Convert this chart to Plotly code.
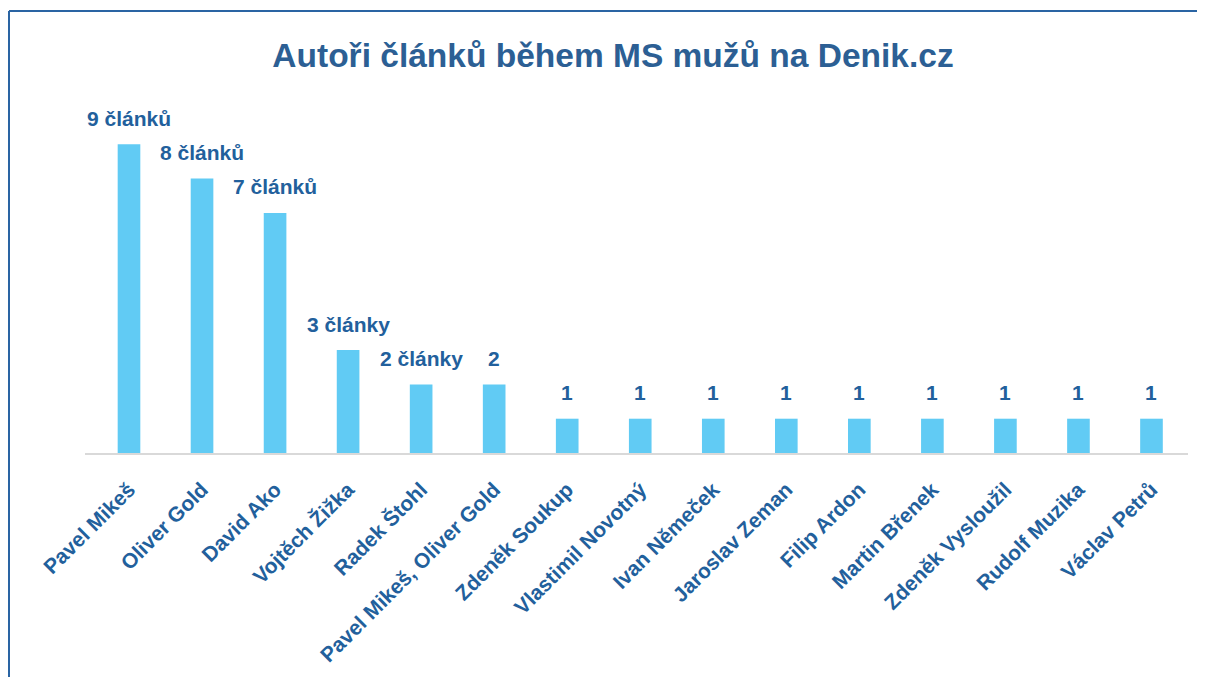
import plotly.graph_objects as go

# data
authors = [
    "Pavel Mikeš", "Oliver Gold", "David Ako", "Vojtěch Žižka", "Radek Štohl",
    "Pavel Mikeš, Oliver Gold", "Zdeněk Soukup", "Vlastimil Novotný",
    "Ivan Němeček", "Jaroslav Zeman", "Filip Ardon", "Martin Břenek",
    "Zdeněk Vysloužil", "Rudolf Muzika", "Václav Petrů",
]
articles = [9, 8, 7, 3, 2, 2, 1, 1, 1, 1, 1, 1, 1, 1, 1]
labels = [
    "9 článků", "8 článků", "7 článků", "3 články", "2 články", "2",
    "1", "1", "1", "1", "1", "1", "1", "1", "1",
]
title = "Autoři článků během MS mužů na Denik.cz"

# page has an 8px body margin, so the figure is a bit smaller than the window
W, H = 1197, 669
ML, MR, MT, MB = 77, 17, 102, 224
BLUE = "#22609C"
BAR = "#61CBF4"


def px_x(p):
    return (p - ML) / (W - ML - MR)


def px_y(p):
    return 1 - (p - MT) / (H - MT - MB)


fig = go.Figure(
    go.Bar(
        x=authors,
        y=articles,
        marker=dict(color=BAR, line=dict(width=0)),
        width=0.31,
        hoverinfo="x+y",
    )
)

for a, v, t in zip(authors, articles, labels):
    fig.add_annotation(
        x=a, y=v, text=t, showarrow=False, yanchor="middle", yshift=26,
        font=dict(family="Liberation Sans", size=21, color=BLUE, weight="bold"),
    )

# frame of the chart area (top and left edges)
fig.add_shape(type="line", xref="paper", yref="paper",
              x0=px_x(1), x1=px_x(W + 5), y0=px_y(3), y1=px_y(3),
              line=dict(color="#2A64A3", width=2))
fig.add_shape(type="line", xref="paper", yref="paper",
              x0=px_x(1), x1=px_x(1), y0=px_y(3), y1=px_y(H + 5),
              line=dict(color="#2A64A3", width=2))

fig.update_layout(
    width=W, height=H,
    margin=dict(l=ML, r=MR, t=MT, b=MB, autoexpand=False),
    paper_bgcolor="white", plot_bgcolor="white",
    showlegend=False,
    title=dict(
        text=title, x=605 / W, xanchor="center", xref="container",
        y=1 - 47 / H, yanchor="middle", yref="container",
        font=dict(family="Liberation Sans", size=33.5, color="#2C5F94", weight="bold"),
    ),
    xaxis=dict(
        tickangle=-45, showline=True, linecolor="#D9D9D9", linewidth=2,
        showgrid=False, ticks="", ticklabelstandoff=14, automargin=False,
        tickfont=dict(family="Liberation Sans", size=21, color=BLUE, weight="bold"),
    ),
    yaxis=dict(range=[0, 10], visible=False, showgrid=False),
)

fig.write_html("out.html")
